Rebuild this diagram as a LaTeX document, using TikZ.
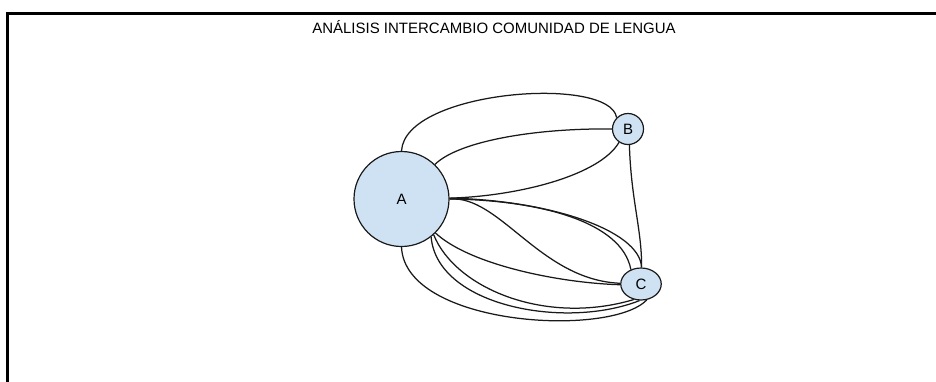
\documentclass[tikz,border=0pt]{standalone}
\usepackage{fontspec}
\setmainfont{Liberation Sans}
\usetikzlibrary{shapes.geometric}
\definecolor{nodefill}{RGB}{207,226,243}
\definecolor{edgecol}{RGB}{25,25,25}
\begin{document}
\begin{tikzpicture}[x=1pt,y=-1pt,
  vtx/.style={draw=edgecol,line width=1.2pt,fill=nodefill,inner sep=0pt,
    font=\fontsize{15}{17}\selectfont},
  lnk/.style={draw=edgecol,line width=1.25pt},
  frame/.style={draw=black,line width=3pt}]
\useasboundingbox (0,0) rectangle (936,381);
\draw[frame] (7,390) -- (7,13) -- (945,13);
\node[font=\fontsize{15}{17}\selectfont] (title) at (494,27.5) {ANÁLISIS INTERCAMBIO COMUNIDAD DE LENGUA};
\node[vtx,circle,minimum size=95pt] (A) at (401.5,199) {A};
\node[vtx,circle,minimum size=31pt] (B) at (628,129) {B};
\node[vtx,ellipse,minimum width=40.5pt,minimum height=32pt] (C) at (641,284) {C};
% A -- B
\draw[lnk] (A.90) .. controls (405,90) and (610,75) .. (B.135);
\draw[lnk] (A.46) .. controls (460,140) and (540,128) .. (B.180);
\draw[lnk] (A.1) .. controls (520,196) and (600,175) .. (B.-124);
% B -- C
\draw[lnk] (B.-85) .. controls (631,200) and (642,230) .. (C.88);
% A -- C
\draw[lnk] (A.1) .. controls (548,200) and (640,230) .. (C.88);
\draw[lnk] (A.0) .. controls (540,200) and (622,222) .. (C.125);
\draw[lnk] (A.0) .. controls (500,195) and (540,280) .. (C.178);
\draw[lnk] (A.-45) .. controls (470,265) and (560,283) .. (C.182);
\draw[lnk] (A.-48) .. controls (455,288) and (545,326) .. (C.-115);
\draw[lnk] (A.-52) .. controls (437,306) and (565,330) .. (C.-95);
\draw[lnk] (A.-90) .. controls (405,326) and (610,338) .. (C.-70);
\end{tikzpicture}
\end{document}
